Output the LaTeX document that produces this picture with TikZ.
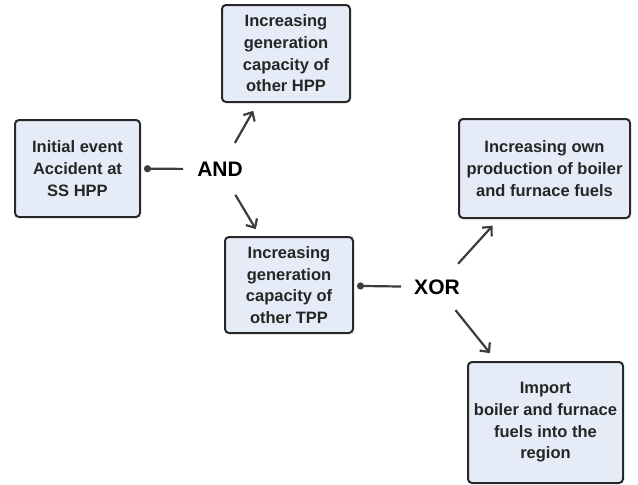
\documentclass[tikz,border=0pt]{standalone}
\usepackage{fontspec}
\setmainfont{Liberation Sans}
\usetikzlibrary{arrows.meta}
\definecolor{boxfill}{RGB}{230,236,247}
\definecolor{boxline}{RGB}{40,40,40}
\definecolor{arrline}{RGB}{60,60,60}
\tikzset{
  box/.style={draw=boxline, fill=boxfill, line width=2pt, rounded corners=4pt, align=center, text=black!85, inner sep=0pt, font=\fontsize{16.5}{21.7}\selectfont\bfseries},
  gate/.style={inner sep=3pt, font=\fontsize{21}{24}\selectfont\bfseries},
  arr/.style={arrline, line width=2.2pt, -{Straight Barb[length=7pt,width=13pt,line width=2.2pt]}},
  lnk/.style={arrline, line width=2.2pt, -{Circle[length=7pt]}, shorten >=3pt}
}
\begin{document}
\begin{tikzpicture}[x=1pt, y=-1pt]
  \useasboundingbox (0,0) rectangle (638,485);
  \node[box, minimum width=125pt, minimum height=97pt] (init) at (77.5,168.5) {Initial event\\Accident at\\SS HPP};
  \node[box, minimum width=128pt, minimum height=97pt] (hpp) at (286,53.5) {Increasing\\generation\\capacity of\\other HPP};
  \node[box, minimum width=128pt, minimum height=96pt] (tpp) at (289,285) {Increasing\\generation\\capacity of\\other TPP};
  \node[box, minimum width=171pt, minimum height=99pt] (own) at (544.5,168.5) {Increasing own\\production of boiler\\and furnace fuels};
  \node[box, minimum width=155pt, minimum height=121pt] (imp) at (545.5,422.5) {Import\\boiler and furnace\\fuels into the\\region};
  \node[gate] (and) at (220,169) {AND};
  \node[gate] (xor) at (437,287) {XOR};
  \draw[lnk, shorten <=11pt] (and) -- (init);
  \draw[lnk, shorten <=10pt] (xor) -- (tpp);
  \draw[arr, shorten <=18pt, shorten >=9pt] (and) -- (hpp);
  \draw[arr, shorten <=18pt, shorten >=8pt] (and) -- (tpp);
  \draw[arr, shorten <=17pt, shorten >=9pt] (xor) -- (own);
  \draw[arr, shorten <=16pt, shorten >=10pt] (xor) -- (imp);
\end{tikzpicture}
\end{document}
